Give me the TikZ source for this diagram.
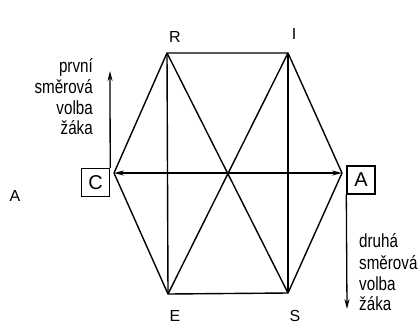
\documentclass[tikz,border=0pt]{standalone}
\usepackage{fontspec}
\setmainfont{Liberation Sans}
\newfontfamily\narrowfont[FakeStretch=0.8]{Liberation Sans}
\usetikzlibrary{arrows.meta}
\begin{document}
\begin{tikzpicture}[x=1pt,y=-1pt,
  edge/.style={line width=1.4pt,line join=round},
  arr/.style={line width=1.3pt,-{Stealth[length=10pt,width=5pt]}},
  lbl/.style={font=\fontsize{16}{16}\selectfont,inner sep=0pt},
  txt/.style={font=\narrowfont\fontsize{19}{19}\selectfont,inner sep=0pt},
  boxnode/.style={draw,line width=1.4pt,minimum width=28pt,minimum height=28pt,inner sep=0pt,font=\fontsize{20}{20}\selectfont}]
\useasboundingbox (0,0) rectangle (420,325);
% vertices
\coordinate (R) at (167,53);
\coordinate (I) at (288,53);
\coordinate (Rt) at (342,173);
\coordinate (S) at (288,293);
\coordinate (E) at (168,294);
\coordinate (L) at (114,173);
% hexagon and inner lines
\draw[edge] (R) -- (I) -- (Rt) -- (S) -- (E) -- (L) -- cycle;
\draw[edge] (R) -- (E);
\draw[edge] (I) -- (S);
\draw[edge] (R) -- (S);
\draw[edge] (I) -- (E);
\draw[line width=1.3pt,{Stealth[length=10pt,width=5pt]}-{Stealth[length=10pt,width=5pt]}] (L) -- (Rt);
% vertex labels
\node[lbl] (lR) at (175,37) {R};
\node[lbl] (lI) at (294,34) {I};
\node[lbl] (lE) at (175,316) {E};
\node[lbl] (lS) at (295,316) {S};
\node[lbl] (lA) at (15,196) {A};
% boxes
\node[boxnode] (C) at (95.5,182.5) {C};
\node[boxnode] (A) at (361,180) {A};
% arrows
\coordinate (t1) at (110,71);
\coordinate (t2) at (347,309);
\draw[arr] (C.north east) -- (t1);
\draw[arr] (A.south west) -- (t2);
% text blocks
\node[txt,anchor=east] (p1) at (93,67) {první};
\node[txt,anchor=east] (p2) at (93,87) {směrová};
\node[txt,anchor=east] (p3) at (93,108) {volba};
\node[txt,anchor=east] (p4) at (93,128) {žáka};
\node[txt,anchor=west] (d1) at (359,241) {druhá};
\node[txt,anchor=west] (d2) at (359,263) {směrová};
\node[txt,anchor=west] (d3) at (359,284) {volba};
\node[txt,anchor=west] (d4) at (359,304) {žáka};
\end{tikzpicture}
\end{document}
